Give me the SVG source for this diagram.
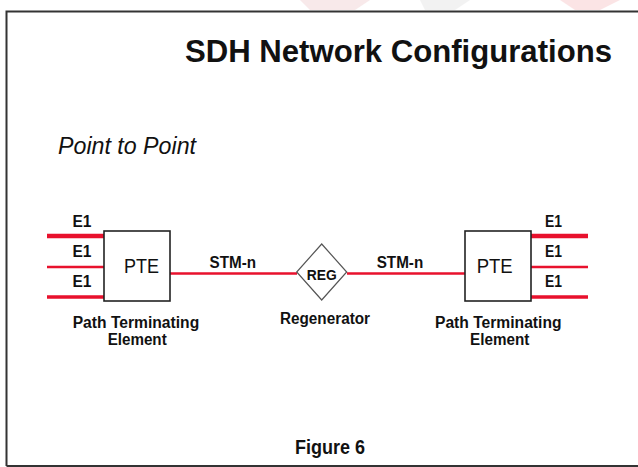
<svg xmlns="http://www.w3.org/2000/svg" width="638" height="467" viewBox="0 0 638 467">
<style>
  text { font-family: "Liberation Sans", Arial, sans-serif; fill: #111; }
  .lbl { font-size: 16px; font-weight: bold; }
  .pte { font-size: 21px; }
  .box { fill: #fff; stroke: #222; stroke-width: 1.6; }
  .red { stroke: #e8112d; fill: none; }
</style>
<rect x="0" y="0" width="638" height="467" fill="#fff"/>
<g id="watermark" opacity="0.5">
  <polygon points="300,0 370,0 355,10 310,10" fill="#f2d4d6"/>
  <polygon points="420,0 470,0 455,10 425,10" fill="#e6e6e6"/>
  <polygon points="560,0 620,0 600,10 575,10" fill="#f7c9cc"/>
</g>
<g id="frame">
  <polyline points="640,11.5 6.5,11.5 6.5,466" fill="none" stroke="#333" stroke-width="2"/>
  <line x1="6.5" y1="466" x2="640" y2="466" stroke="#333" stroke-width="2"/>
</g>
<text x="398.5" y="62" text-anchor="middle" font-size="30.5" font-weight="bold" textLength="427" lengthAdjust="spacingAndGlyphs">SDH Network Configurations</text>
<text x="58" y="153.5" font-size="24.5" font-style="italic" textLength="138" lengthAdjust="spacingAndGlyphs">Point to Point</text>
<g id="connectors">
  <line class="red" x1="47" y1="236" x2="104" y2="236" stroke-width="4.5"/>
  <line class="red" x1="47" y1="267" x2="104" y2="267" stroke-width="2.5"/>
  <line class="red" x1="47" y1="297" x2="104" y2="297" stroke-width="3.5"/>
  <line class="red" x1="170" y1="273.5" x2="297" y2="273.5" stroke-width="2.7"/>
  <line class="red" x1="347" y1="273.5" x2="465" y2="273.5" stroke-width="2.7"/>
  <line class="red" x1="531" y1="236" x2="588" y2="236" stroke-width="4.5"/>
  <line class="red" x1="531" y1="267" x2="588" y2="267" stroke-width="2.5"/>
  <line class="red" x1="531" y1="297" x2="588" y2="297" stroke-width="3.5"/>
  <text class="lbl" x="72.5" y="227" textLength="19" lengthAdjust="spacingAndGlyphs">E1</text>
  <text class="lbl" x="72.5" y="257" textLength="19" lengthAdjust="spacingAndGlyphs">E1</text>
  <text class="lbl" x="72.5" y="287" textLength="19" lengthAdjust="spacingAndGlyphs">E1</text>
  <text class="lbl" x="545" y="227" textLength="17" lengthAdjust="spacingAndGlyphs">E1</text>
  <text class="lbl" x="545" y="257" textLength="17" lengthAdjust="spacingAndGlyphs">E1</text>
  <text class="lbl" x="545" y="287" textLength="17" lengthAdjust="spacingAndGlyphs">E1</text>
  <text class="lbl" x="209.5" y="267.5" textLength="46.5" lengthAdjust="spacingAndGlyphs">STM-n</text>
  <text class="lbl" x="376.7" y="267.5" textLength="46.5" lengthAdjust="spacingAndGlyphs">STM-n</text>
</g>
<g id="pte-left">
  <rect class="box" x="104" y="231" width="66" height="70"/>
  <text class="pte" x="124" y="272.5" textLength="35" lengthAdjust="spacingAndGlyphs">PTE</text>
  <text class="lbl" x="72.7" y="327.5" textLength="126.5" lengthAdjust="spacingAndGlyphs">Path Terminating</text>
  <text class="lbl" x="107.7" y="344.5" textLength="59" lengthAdjust="spacingAndGlyphs">Element</text>
</g>
<g id="reg">
  <polygon points="321.7,244 346.7,272 321.7,300 296.7,272" fill="#fff" stroke="#555" stroke-width="1.2"/>
  <text x="306.7" y="279.5" font-size="15" font-weight="bold" textLength="30" lengthAdjust="spacingAndGlyphs">REG</text>
  <text class="lbl" x="280" y="323.5" textLength="90" lengthAdjust="spacingAndGlyphs">Regenerator</text>
</g>
<g id="pte-right">
  <rect class="box" x="465" y="231" width="66" height="70"/>
  <text class="pte" x="476.7" y="272.5" textLength="36" lengthAdjust="spacingAndGlyphs">PTE</text>
  <text class="lbl" x="435" y="327.5" textLength="126.5" lengthAdjust="spacingAndGlyphs">Path Terminating</text>
  <text class="lbl" x="470" y="344.5" textLength="59.3" lengthAdjust="spacingAndGlyphs">Element</text>
</g>
<text x="295" y="453.5" font-size="20" font-weight="bold" textLength="70" lengthAdjust="spacingAndGlyphs">Figure 6</text>
</svg>
